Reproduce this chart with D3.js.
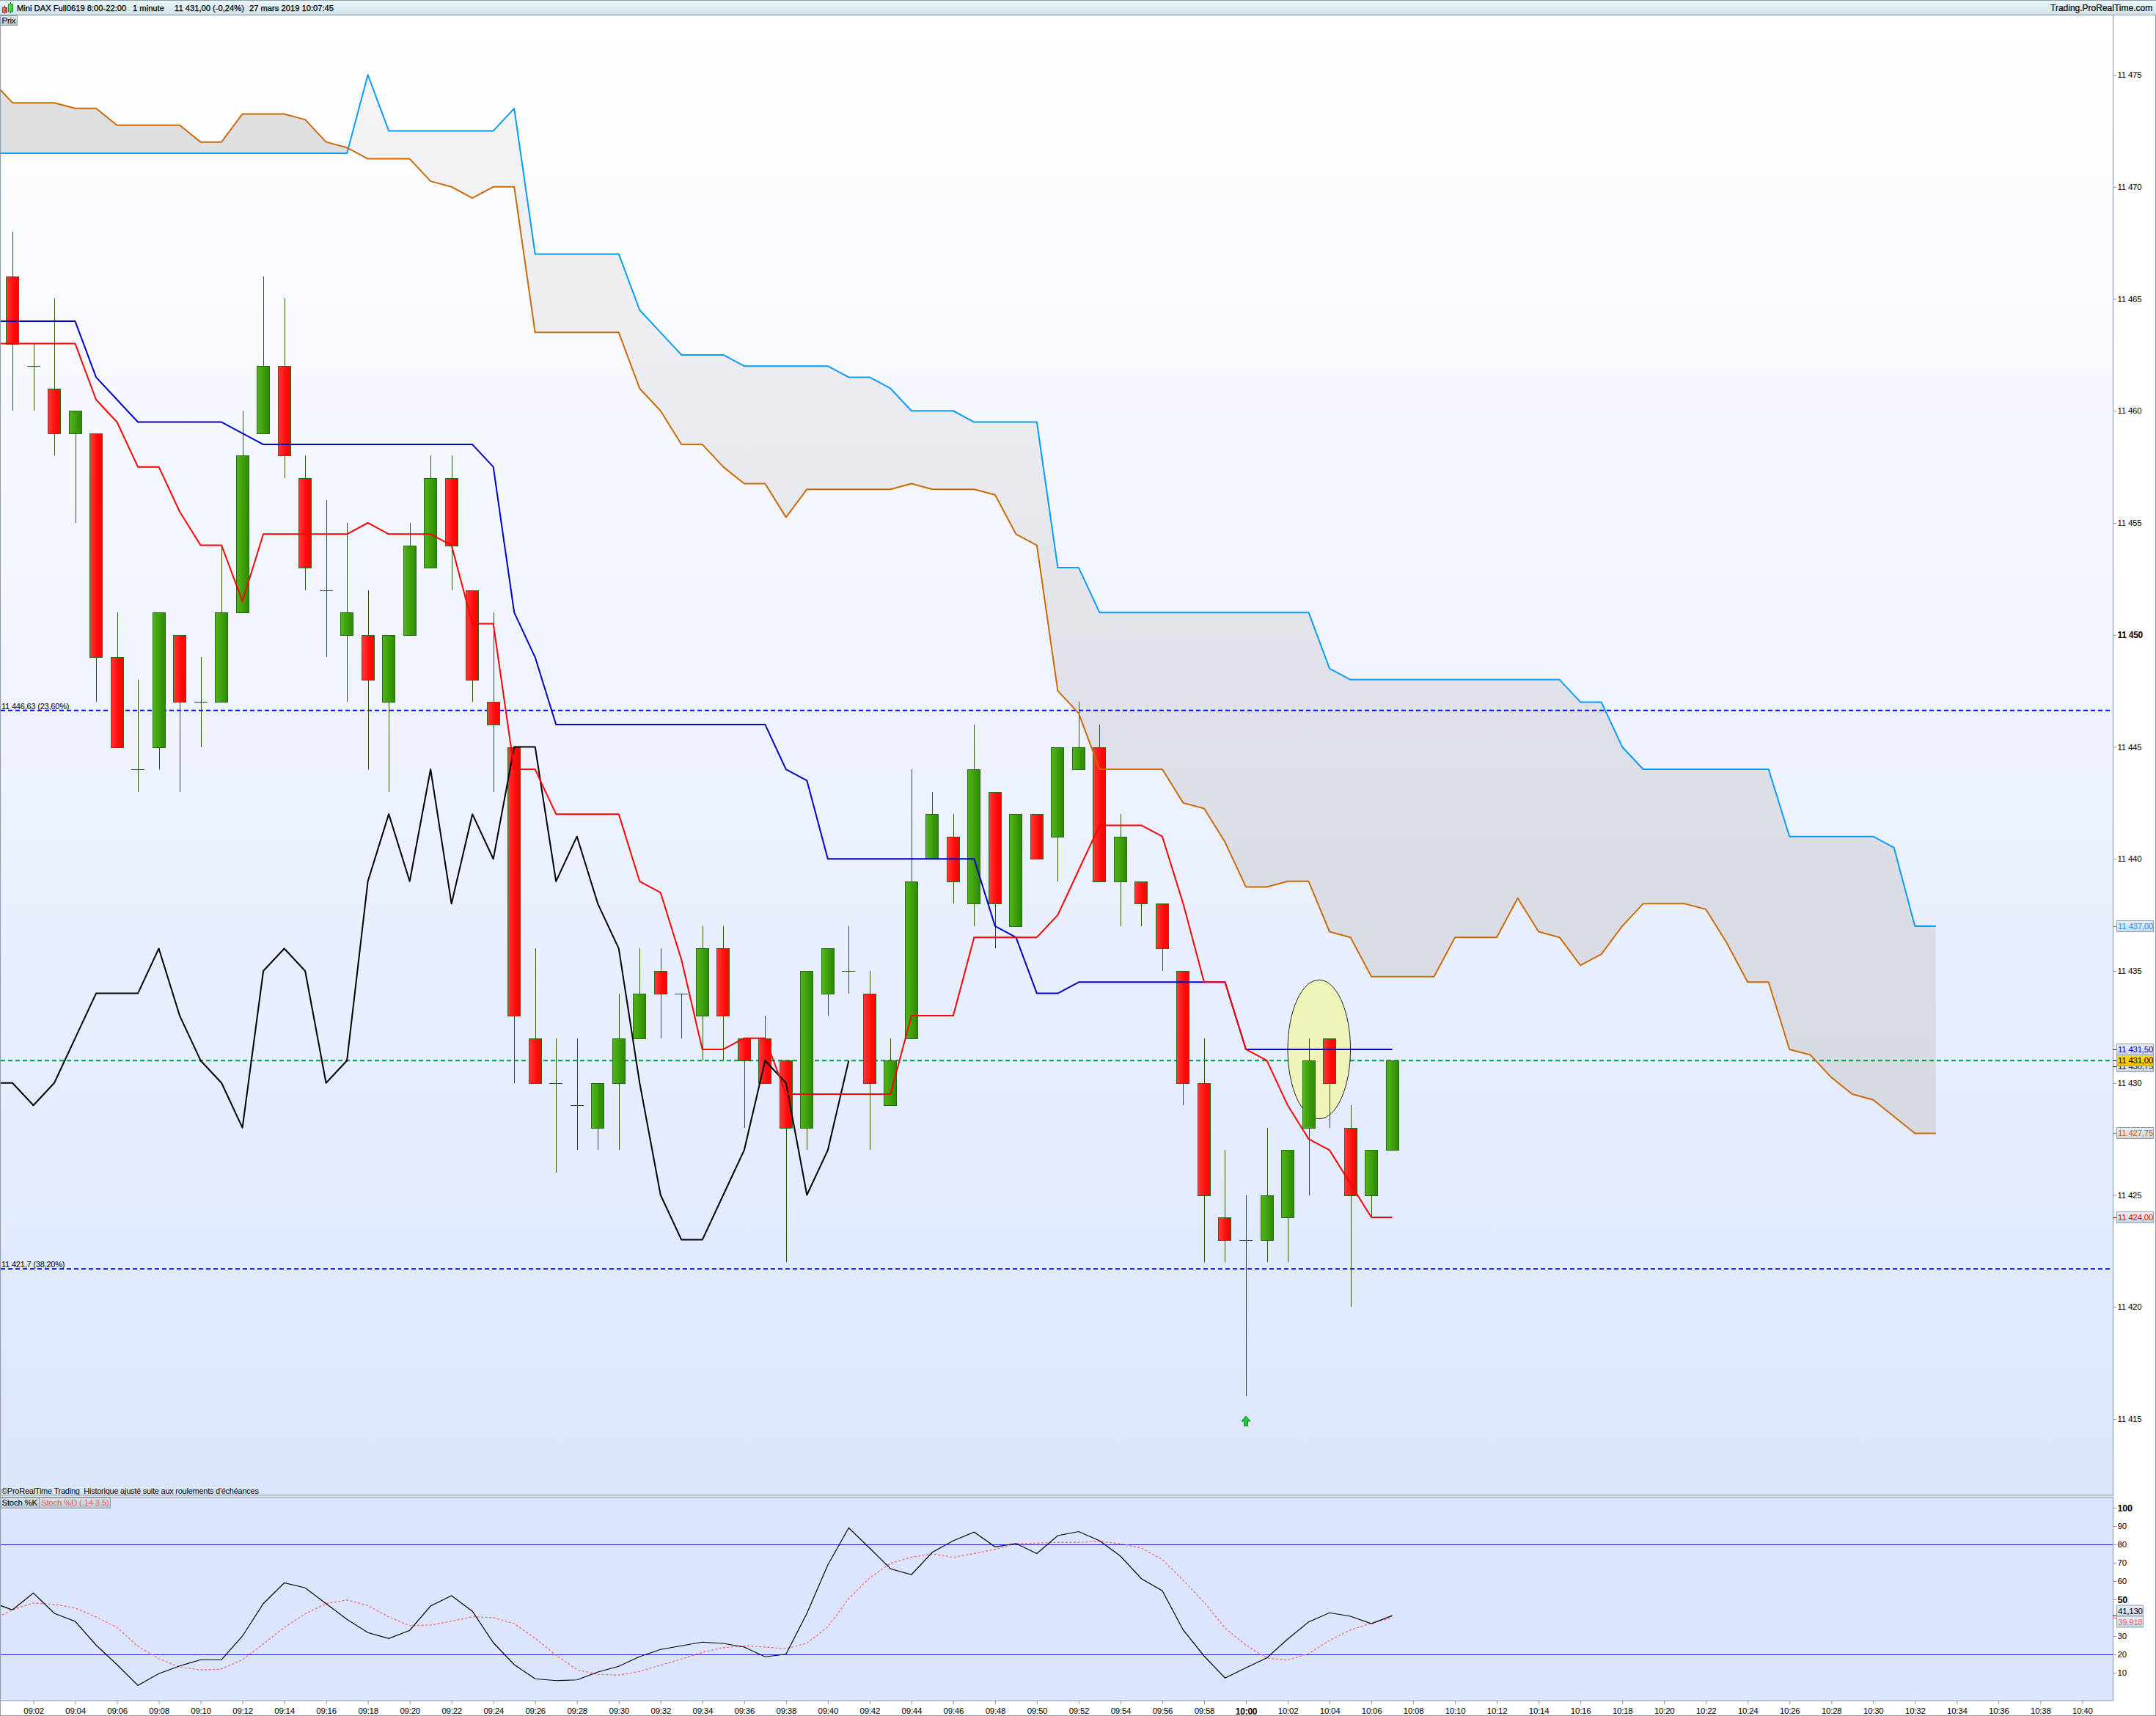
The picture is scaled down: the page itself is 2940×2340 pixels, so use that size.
<!DOCTYPE html>
<html><head><meta charset="utf-8">
<style>
html,body{margin:0;padding:0;background:#fff}
svg{display:block}
text{font-family:"Liberation Sans",Arial,sans-serif;font-size:11.5px;letter-spacing:-0.25px;fill:#000}
</style>
<script src="https://cdn.jsdelivr.net/npm/d3@7/dist/d3.min.js"></script>
</head><body>
<script>
// ---------- DATA ----------
const firstCandleMinute = 541;   // 09:01
const firstLineMinute = 540;     // 09:00
const opens = [11466,11462,11461,11459,11459,11449,11444,11445,11450,11447,11447,11451,11459,11462,11457,11452,11450,11450,11447,11450,11453,11457,11452,11447,11445,11432,11430,11429,11428,11430,11432,11435,11434,11433,11436,11432,11432,11431,11428,11434,11435,11434,11429,11432,11440,11441,11438,11443,11437,11442,11441,11444,11445,11439,11439,11438,11435,11430,11424,11423,11423,11424,11428,11432,11428,11425,11427];
const closes = [11463,11462,11459,11460,11449,11445,11444,11451,11447,11447,11451,11458,11462,11458,11453,11452,11451,11448,11450,11454,11457,11454,11448,11446,11433,11430,11430,11429,11430,11432,11434,11434,11434,11436,11433,11431,11430,11428,11435,11436,11435,11430,11431,11439,11442,11439,11444,11438,11442,11440,11445,11445,11439,11441,11438,11436,11430,11425,11423,11423,11425,11427,11431,11430,11425,11427,11431];
const highs = [11468,11463,11465,11460,11459,11451,11448,11451,11450,11449,11454,11460,11466,11465,11458,11456,11455,11452,11450,11455,11458,11458,11452,11451,11445,11436,11432,11432,11430,11434,11436,11436,11434,11437,11437,11432,11433,11431,11435,11436,11437,11435,11432,11444,11443,11442,11446,11443,11442,11442,11445,11447,11446,11442,11439,11438,11435,11432,11427,11425,11428,11427,11432,11432,11429,11427,11431];
const lows = [11460,11460,11458,11455,11447,11445,11443,11444,11443,11445,11447,11451,11459,11457,11452,11449,11447,11444,11443,11450,11453,11452,11447,11443,11430,11430,11426,11427,11427,11427,11432,11432,11432,11431,11431,11428,11430,11422,11427,11433,11434,11427,11429,11432,11440,11438,11437,11436,11437,11440,11439,11444,11439,11437,11437,11435,11429,11422,11422,11416,11422,11422,11425,11428,11420,11424,11427];
const tenkan = [11463,11463,11463,11463,11463,11460.5,11459.5,11457.5,11457.5,11455.5,11454,11454,11451.5,11454.5,11454.5,11454.5,11454.5,11454.5,11455,11454.5,11454.5,11454.5,11454,11450.5,11450.5,11444,11444,11442,11442,11442,11442,11439,11438.5,11435.5,11431.5,11431.5,11432,11432,11429.5,11429.5,11429.5,11429.5,11429.5,11429.5,11433,11433,11433,11436.5,11436.5,11436.5,11436.5,11437.5,11439.5,11441.5,11441.5,11441.5,11441,11438,11434.5,11434.5,11431.5,11431,11429,11427.5,11427,11425.5,11424,11424];
const kijun = [11464,11464,11464,11464,11464,11461.5,11460.5,11459.5,11459.5,11459.5,11459.5,11459.5,11459,11458.5,11458.5,11458.5,11458.5,11458.5,11458.5,11458.5,11458.5,11458.5,11458.5,11458.5,11457.5,11451,11449,11446,11446,11446,11446,11446,11446,11446,11446,11446,11446,11446,11444,11443.5,11440,11440,11440,11440,11440,11440,11440,11440,11437,11436.5,11434,11434,11434.5,11434.5,11434.5,11434.5,11434.5,11434.5,11434.5,11434.5,11431.5,11431.5,11431.5,11431.5,11431.5,11431.5,11431.5,11431.5];
const chikou = [11430,11430,11429,11430,11432,11434,11434,11434,11436,11433,11431,11430,11428,11435,11436,11435,11430,11431,11439,11442,11439,11444,11438,11442,11440,11445,11445,11439,11441,11438,11436,11430,11425,11423,11423,11425,11427,11431,11430,11425,11427,11431];
const senkouA = [11471.5,11471.5,11471.5,11471.5,11471.5,11471.5,11471.5,11471.5,11471.5,11471.5,11471.5,11471.5,11471.5,11471.5,11471.5,11471.5,11471.5,11471.5,11475,11472.5,11472.5,11472.5,11472.5,11472.5,11472.5,11473.5,11467,11467,11467,11467,11467,11464.5,11463.5,11462.5,11462.5,11462.5,11462,11462,11462,11462,11462,11461.5,11461.5,11461,11460,11460,11460,11459.5,11459.5,11459.5,11459.5,11453,11453,11451,11451,11451,11451,11451,11451,11451,11451,11451,11451,11451,11448.5,11448,11448,11448,11448,11448,11448,11448,11448,11448,11448,11448,11447,11447,11445,11444,11444,11444,11444,11444,11444,11444,11441,11441,11441,11441,11441,11440.5,11437,11437];
const senkouB = [11474.75,11473.75,11473.75,11473.75,11473.5,11473.5,11472.75,11472.75,11472.75,11472.75,11472,11472,11473.25,11473.25,11473.25,11473,11472,11471.75,11471.25,11471.25,11471.25,11470.25,11470,11469.5,11470,11470,11463.5,11463.5,11463.5,11463.5,11463.5,11461,11460,11458.5,11458.5,11457.5,11456.75,11456.75,11455.25,11456.5,11456.5,11456.5,11456.5,11456.5,11456.75,11456.5,11456.5,11456.5,11456.25,11454.5,11454,11447.5,11446.5,11444,11444,11444,11444,11442.5,11442.25,11440.75,11438.75,11438.75,11439,11439,11436.75,11436.5,11434.75,11434.75,11434.75,11434.75,11436.5,11436.5,11436.5,11438.25,11436.75,11436.5,11435.25,11435.75,11437,11438,11438,11438,11437.75,11436.25,11434.5,11434.5,11431.5,11431.25,11430.25,11429.5,11429.25,11428.5,11427.75,11427.75];
const stochK = [48.4,44.3,53.5,42.4,38,25.1,14.4,3.1,9.5,13.7,17.1,17.1,30,47.7,59,56.3,47.7,39.1,31.9,28.7,33.1,46.4,52,43.5,26.4,14.4,6.7,5.7,6.1,10.4,13.5,18.8,22.7,24.7,26.7,26,24,18.7,20.1,42.4,68.8,89,78,66.7,63.5,75.7,82,86.7,78.7,80.5,75,84.8,87,82,73.6,61.3,54.7,33.3,19.1,7.1,12.7,18.1,28.4,37.7,42.7,40.8,36.8,41.13];
const stochD = [38.4,44.4,48,47.3,45.3,40.4,34.7,24.4,17.7,13.1,11.5,12,17.1,25.7,34.7,42.1,47.7,49.7,46.7,40.4,35.7,36,38.1,40.5,40.1,36.8,28.8,19.5,11.7,9.1,8.7,10.7,14.1,17.5,21.1,23.7,24.7,24,23.1,26.1,35,50.4,61.7,69.7,73,74.8,73,75,77.3,80.4,80.7,81.1,81.1,81.7,80.4,78,71.7,60.4,48.4,34.4,25,18,16.9,20.4,27.7,33.3,37.1,39.918];
const priceTicks = [11415,11420,11425,11430,11435,11440,11445,11450,11455,11460,11465,11470,11475];
const boldPriceTick = 11450;
const stochTicks = [10,20,30,50,60,70,80,90,100];
const boldStochTicks = [50,100];
const stochLevels = [80,20];
const timeTicks = d3.range(542, 642, 2);
const boldTimeTick = 600;
const fibLevels = [11446.63, 11421.7];
const fibLabels = ["11 446,63 (23,60%)", "11 421,7 (38,20%)"];
const lastPrice = 11431;
const priceTags = [11437, 11431.5, 11430.75, 11427.75, 11424];
const priceTagColors = ["#0a9cf5","#0000d0","#222222","#cc6600","#ff0000"];
const stochTags = [41.13, 39.918];
const stochTagColors = ["#000","#ee6a6a"];
const ellipseMinutes = [602, 605];
const ellipsePrices = [11434.6, 11428.4];
const arrowMinute = 600, arrowPrice = 11414.9;

// ---------- LAYOUT ----------
const W = 2940, H = 2340;
const L = 1, R = 2881, mainTop = 21, mainBottom = 2039, stTop = 2042, stBottom = 2319;

const fr = d3.formatLocale({decimal:",",thousands:" ",grouping:[3],currency:["",""]});
const fInt = fr.format(",.0f"), fDec = fr.format(",.2f"), fSt = fr.format(".3f");
const hhmm = m => d3.format("02")(Math.floor(m/60)) + ":" + d3.format("02")(m%60);

const x = d3.scaleLinear().domain([541,600]).range([17,1699]);
const y = d3.scaleLinear().domain([11415,11475]).range([1935,102]);
const ySt = d3.scaleLinear().domain([0,100]).range([2306,2056]);

const svg = d3.select("body").append("svg").attr("width",W).attr("height",H);
const defs = svg.append("defs");
function grad(id, stops, x2, y2, abs){
  const g = defs.append("linearGradient").attr("id",id).attr("x1",0).attr("y1",abs?abs[0]:0).attr("x2",x2).attr("y2",abs?abs[1]:y2);
  if(abs) g.attr("gradientUnits","userSpaceOnUse");
  stops.forEach(s=>g.append("stop").attr("offset",s[0]).attr("stop-color",s[1]));
}
grad("bgMain",[[0,"#ffffff"],[1,"#dce6fd"]],0,1);
grad("titleBar",[[0,"#eaf6f9"],[1,"#cfe2e8"]],0,1);
grad("bodyRed",[[0,"#ff3a3a"],[0.6,"#ff0c0c"],[1,"#ff0000"]],1,0);
grad("bodyGreen",[[0,"#52b61c"],[1,"#2b8a00"]],1,0);
grad("cloudLight",[[0,"#f4f4f5"],[0.35,"#e9eaee"],[0.65,"#dddfe7"],[1,"#d6d9e1"]],0,0,[130,1550]);
grad("tagFill",[[0,"#e6eefa"],[1,"#ccd8e8"]],0,1);
grad("tagYellow",[[0,"#ffdd22"],[1,"#f5c400"]],0,1);
grad("btnFill",[[0,"#d9e3ea"],[1,"#b9c7d0"]],0,1);
grad("icoRed",[[0,"#e88"],[1,"#c33"]],1,0);
grad("icoGreen",[[0,"#7e7"],[1,"#2b2"]],1,0);

const clipM = defs.append("clipPath").attr("id","clipMain");
clipM.append("rect").attr("x",L).attr("y",mainTop).attr("width",R-L).attr("height",mainBottom-mainTop);
const clipS = defs.append("clipPath").attr("id","clipSt");
clipS.append("rect").attr("x",L).attr("y",stTop).attr("width",R-L).attr("height",stBottom-stTop);

const GR = "#8f9eaa";
// outer frame
svg.append("rect").attr("width",W).attr("height",H).attr("fill","#fff");
svg.append("rect").attr("x",0.5).attr("y",0.5).attr("width",W-1).attr("height",H-1).attr("fill","none").attr("stroke",GR);
// title bar
svg.append("rect").attr("x",0).attr("y",0).attr("width",W).attr("height",21).attr("fill","url(#titleBar)");
svg.append("path").attr("d",`M0 .5H${W}M0 20.5H${W}`).attr("stroke",GR).attr("stroke-width",1);
// panels
svg.append("rect").attr("x",L).attr("y",mainTop).attr("width",R-L).attr("height",mainBottom-mainTop).attr("fill","url(#bgMain)");
svg.append("rect").attr("x",L).attr("y",stTop).attr("width",R-L).attr("height",stBottom-stTop).attr("fill","#dbe5fd");

// ---------- MAIN PANEL ----------
const main = svg.append("g").attr("clip-path","url(#clipMain)");

// cloud: split at crossings of the two spans
const cloud = senkouA.map((a,i)=>({m:firstLineMinute+i,a,b:senkouB[i]}));
const parts = [];
cloud.forEach((d,i)=>{
  const sign = d.b>d.a;
  if(i===0){parts.push({dark:sign,pts:[d]});return;}
  const cur = parts[parts.length-1];
  if(sign!==cur.dark && d.a!==d.b){
    const p = cloud[i-1];
    const t = (p.b-p.a)/((p.b-p.a)-(d.b-d.a));
    const c = {m:p.m+t,a:p.a+t*(d.a-p.a),b:p.a+t*(d.a-p.a)};
    cur.pts.push(c);
    parts.push({dark:sign,pts:[c,d]});
  } else cur.pts.push(d);
});
const cloudArea = d3.area().x(d=>x(d.m)).y0(d=>y(d.a)).y1(d=>y(d.b));
main.selectAll("path.cloud").data(parts).join("path").attr("class","cloud")
  .attr("d",d=>cloudArea(d.pts)).attr("fill",d=>d.dark?"#dedfe1":"url(#cloudLight)");

// horizontal levels
const dash = "6 4";
main.selectAll("line.fib").data(fibLevels).join("line").attr("class","fib")
  .attr("x1",L).attr("x2",R).attr("y1",d=>y(d)).attr("y2",d=>y(d))
  .attr("stroke","#0000f0").attr("stroke-width",2).attr("stroke-dasharray",dash);
main.append("line").attr("x1",L).attr("x2",R).attr("y1",y(lastPrice)).attr("y2",y(lastPrice))
  .attr("stroke","#009a3c").attr("stroke-width",2).attr("stroke-dasharray",dash);
main.selectAll("text.fib").data(fibLabels).join("text").attr("class","fib")
  .attr("x",2).attr("y",(d,i)=>y(fibLevels[i])-2).style("font-size","11px").style("letter-spacing","-0.2px").text(d=>d);

// highlighted ellipse
main.append("ellipse")
  .attr("cx",(x(ellipseMinutes[0])+x(ellipseMinutes[1]))/2)
  .attr("cy",(y(ellipsePrices[0])+y(ellipsePrices[1]))/2)
  .attr("rx",(x(ellipseMinutes[1])-x(ellipseMinutes[0]))/2)
  .attr("ry",(y(ellipsePrices[1])-y(ellipsePrices[0]))/2)
  .attr("fill","#f0f4b8").attr("stroke","#222").attr("stroke-width",1);

// candles
const candles = opens.map((o,i)=>({m:firstCandleMinute+i,o,c:closes[i],h:highs[i],l:lows[i]}));
const px = d=>Math.round(x(d.m));
const wickCol = "#2a5a12";
const cg = main.append("g");
cg.selectAll("line.wick").data(candles).join("line").attr("class","wick")
  .attr("x1",d=>px(d)+.5).attr("x2",d=>px(d)+.5)
  .attr("y1",d=>Math.round(y(d.h))).attr("y2",d=>Math.round(y(d.l)))
  .attr("stroke",wickCol).attr("stroke-width",1);
cg.selectAll("rect.body").data(candles.filter(d=>d.o!==d.c)).join("rect").attr("class","body")
  .attr("x",d=>px(d)-8.5).attr("width",17)
  .attr("y",d=>Math.round(y(Math.max(d.o,d.c)))+.5)
  .attr("height",d=>Math.round(y(Math.min(d.o,d.c)))-Math.round(y(Math.max(d.o,d.c))))
  .attr("fill",d=>d.c>d.o?"url(#bodyGreen)":"url(#bodyRed)")
  .attr("stroke","#2a6a1a").attr("stroke-width",1);
cg.selectAll("line.doji").data(candles.filter(d=>d.o===d.c)).join("line").attr("class","doji")
  .attr("x1",d=>px(d)-9).attr("x2",d=>px(d)+9)
  .attr("y1",d=>Math.round(y(d.o))+.5).attr("y2",d=>Math.round(y(d.o))+.5)
  .attr("stroke",wickCol).attr("stroke-width",1);

// ichimoku lines
const line = (arr,start,sy)=>d3.line().x((d,i)=>x(start+i)).y(d=>sy(d))(arr);
[[senkouA,"#0a9cf5"],[senkouB,"#cc6a08"],[chikou,"#000000"],[kijun,"#0000c4"],[tenkan,"#ff0000"]].forEach(s=>{
  main.append("path").attr("d",line(s[0],firstLineMinute,y)).attr("fill","none")
    .attr("stroke",s[1]).attr("stroke-width",2).attr("stroke-linejoin","round");
});

// buy arrow
const ax = x(arrowMinute), ay = y(arrowPrice);
main.append("path").attr("transform",`translate(${ax},${ay})`)
  .attr("d","M0 -7L6 0H2.5V6.5H-2.5V0H-6Z").attr("fill","#1ecb36").attr("stroke","#0c8a22").attr("stroke-width",1);

svg.append("text").attr("x",2).attr("y",2037).style("font-size","11px").style("white-space","pre").text("©ProRealTime Trading  Historique ajusté suite aux roulements d'échéances");

// ---------- STOCHASTIC PANEL ----------
const st = svg.append("g").attr("clip-path","url(#clipSt)");
st.selectAll("line.lvl").data(stochLevels).join("line").attr("class","lvl")
  .attr("x1",L).attr("x2",R).attr("y1",d=>Math.round(ySt(d))+.5).attr("y2",d=>Math.round(ySt(d))+.5)
  .attr("stroke","#1c1cdc").attr("stroke-width",1);
st.append("path").attr("d",line(stochD,firstLineMinute,ySt)).attr("fill","none")
  .attr("stroke","#f06c6c").attr("stroke-width",1.3).attr("stroke-dasharray","3 2.5");
st.append("path").attr("d",line(stochK,firstLineMinute,ySt)).attr("fill","none")
  .attr("stroke","#000").attr("stroke-width",1.2);

// panel borders
const frame = (yy,h)=>svg.append("rect").attr("x",L-.5).attr("y",yy+.5).attr("width",R-L+1).attr("height",h).attr("fill","none").attr("stroke",GR).attr("stroke-width",1.2);
frame(mainTop-1,mainBottom-mainTop+0.5);
frame(stTop-1,stBottom-stTop+0.5);

// ---------- AXES ----------
function styleAxis(g){
  g.select(".domain").remove();
  g.selectAll(".tick line").attr("stroke",GR);
  g.selectAll(".tick text").attr("fill","#000").attr("font-family",null).attr("font-size",null);
}
const ayG = svg.append("g").attr("transform",`translate(${R+.5},0)`)
  .call(d3.axisRight(y).tickValues(priceTicks).tickFormat(fInt).tickSize(5).tickPadding(1)).call(styleAxis);
ayG.selectAll(".tick text").filter(d=>d===boldPriceTick).style("font-weight","bold").style("font-size","12px");

const asG = svg.append("g").attr("transform",`translate(${R+.5},0)`)
  .call(d3.axisRight(ySt).tickValues(stochTicks).tickFormat(d3.format("d")).tickSize(5).tickPadding(1)).call(styleAxis);
asG.selectAll(".tick text").filter(d=>boldStochTicks.includes(d)).style("font-weight","bold").style("font-size","12.5px");

const atG = svg.append("g").attr("transform",`translate(0,${stBottom})`)
  .call(d3.axisBottom(x).tickValues(timeTicks).tickFormat(hhmm).tickSize(5).tickPadding(5)).call(styleAxis);
atG.selectAll(".tick text").filter(d=>d===boldTimeTick).style("font-weight","bold").style("font-size","12px");

// ---------- RIGHT-HAND VALUE TAGS ----------
function tag(yc,txt,col,fill,w,stroke){
  svg.append("line").attr("x1",R).attr("x2",R+6).attr("y1",Math.round(yc)+.5).attr("y2",Math.round(yc)+.5).attr("stroke",col);
  svg.append("rect").attr("x",2886.5).attr("y",Math.round(yc)-7.5).attr("width",w).attr("height",15)
    .attr("fill",fill).attr("stroke",stroke||GR);
  svg.append("text").attr("x",2888).attr("y",Math.round(yc)+4).style("fill",col).text(txt);
}
// draw the tags so the current-price tag sits on top of its neighbours
[2,1,0,3,4].forEach(i=>tag(y(priceTags[i]),fDec(priceTags[i]),priceTagColors[i],"url(#tagFill)",50));
tag(y(lastPrice),fDec(lastPrice),"#000","url(#tagYellow)",50);
stochTags.forEach((v,i)=>{
  const yc = 2196.5+i*15;
  svg.append("line").attr("x1",R).attr("x2",R+5).attr("y1",Math.round(ySt(v))+.5).attr("y2",Math.round(ySt(v))+.5).attr("stroke",stochTagColors[i]);
  svg.append("rect").attr("x",2886.5).attr("y",yc-7.5).attr("width",36).attr("height",15).attr("fill","url(#tagFill)").attr("stroke",GR);
  svg.append("text").attr("x",2888).attr("y",yc+4).style("fill",stochTagColors[i]).text(fSt(v));
});

// ---------- HEADER TEXTS ----------
const ico = svg.append("g");
ico.append("path").attr("d","M6.5 7.5V18.5M14.5 3V18").attr("stroke","#333");
ico.append("rect").attr("x",3.5).attr("y",10.5).attr("width",6).attr("height",6.5).attr("fill","url(#icoRed)").attr("stroke","#a33");
ico.append("rect").attr("x",11.5).attr("y",5.5).attr("width",6).attr("height",10.5).attr("fill","url(#icoGreen)").attr("stroke","#292");
const titleParts = [["Mini DAX Full0619 8:00-22:00",23],["1 minute",181],["11 431,00 (-0,24%)",238],["27 mars 2019 10:07:45",340]];
titleParts.forEach(t=>svg.append("text").attr("x",t[1]).attr("y",15).style("font-size","11.2px").style("letter-spacing","0").style("stroke","#000").style("stroke-width","0.25px").text(t[0]));
svg.append("text").attr("x",2796).attr("y",15).style("font-size","12px").style("letter-spacing","0").style("stroke","#000").style("stroke-width","0.2px").text("Trading.ProRealTime.com");

svg.append("rect").attr("x",.5).attr("y",21.5).attr("width",23).attr("height",13).attr("fill","url(#btnFill)").attr("stroke",GR);
svg.append("text").attr("x",2.5).attr("y",32).text("Prix");
svg.append("rect").attr("x",.5).attr("y",stTop+.5).attr("width",53).attr("height",14).attr("fill","url(#btnFill)").attr("stroke",GR);
svg.append("rect").attr("x",53.5).attr("y",stTop+.5).attr("width",97).attr("height",14).attr("fill","url(#btnFill)").attr("stroke",GR);
svg.append("text").attr("x",2.5).attr("y",stTop+11).text("Stoch %K");
svg.append("text").attr("x",56).attr("y",stTop+11).style("fill","#ee6060").text("Stoch %D ( 14 3 5)");
</script>
</body></html>
